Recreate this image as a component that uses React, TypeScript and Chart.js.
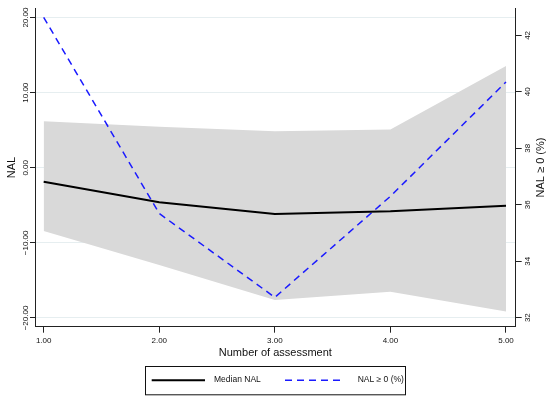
import React, { useRef, useEffect } from 'react';
import { Chart, registerables } from 'chart.js';

Chart.register(...registerables);

// data
const assessments = [1, 2, 3, 4, 5];
const medianNal = [-1.86, -4.6, -6.16, -5.8, -5.05];
const nalUpper = [6.2, 5.45, 4.88, 5.1, 13.56];
const nalLower = [-8.42, -12.95, -17.6, -16.5, -19.15];
const nalPositivePct = [42.64, 35.69, 32.72, 36.3, 40.35];

const xTicks = [1, 2, 3, 4, 5];
const leftTicks = [-20, -10, 0, 10, 20];
const rightTicks = [32, 34, 36, 38, 40, 42];

const FONT = '"Liberation Sans", Arial, Helvetica, sans-serif';
const AXIS_COLOR = '#222';
const GRID_COLOR = '#e6eef0';

const pts = (ys: number[]) => assessments.map((x, i) => ({ x, y: ys[i] }));
const setTicks = (vals: number[]) => (scale: any) => {
    scale.ticks = vals.map((v) => ({ value: v }));
};

const App: React.FC = () => {
    const canvasRef = useRef<HTMLCanvasElement>(null);
    const chartRef = useRef<Chart | null>(null);

    useEffect(() => {
        if (!canvasRef.current) return;
        const ctx = canvasRef.current.getContext('2d');
        if (!ctx) return;

        chartRef.current = new Chart(ctx, {
            type: 'line',
            data: {
                datasets: [
                    {
                        label: 'Median NAL',
                        data: pts(medianNal),
                        borderColor: '#000',
                        borderWidth: 2,
                        pointRadius: 0,
                        fill: false,
                        yAxisID: 'y',
                    },
                    {
                        label: 'NAL ≥ 0 (%)',
                        data: pts(nalPositivePct),
                        borderColor: '#1a1aff',
                        borderWidth: 1.5,
                        borderDash: [7, 5],
                        pointRadius: 0,
                        fill: false,
                        yAxisID: 'y2',
                    },
                    {
                        label: 'upper',
                        data: pts(nalUpper),
                        borderColor: 'rgba(0,0,0,0)',
                        borderWidth: 0,
                        backgroundColor: '#d9d9d9',
                        pointRadius: 0,
                        fill: '+1',
                        yAxisID: 'y',
                    },
                    {
                        label: 'lower',
                        data: pts(nalLower),
                        borderColor: 'rgba(0,0,0,0)',
                        borderWidth: 0,
                        backgroundColor: '#d9d9d9',
                        pointRadius: 0,
                        fill: false,
                        yAxisID: 'y',
                    },
                ],
            },
            options: {
                animation: false,
                responsive: false,
                layout: { padding: { top: 8.3, left: 0, right: 0, bottom: 0 } },
                plugins: {
                    legend: { display: false },
                    tooltip: { enabled: false },
                },
                scales: {
                    x: {
                        type: 'linear',
                        min: 0.925,
                        max: 5.084,
                        afterBuildTicks: setTicks(xTicks),
                        afterFit: (s: any) => {
                            s.height = 73.3;
                        },
                        grid: { drawOnChartArea: false, tickLength: 6, tickColor: AXIS_COLOR },
                        border: { color: AXIS_COLOR, width: 1 },
                        ticks: {
                            padding: 3,
                            color: '#111',
                            font: { family: FONT, size: 8 },
                            callback: (v: any) => Number(v).toFixed(2),
                        },
                    },
                    y: {
                        type: 'linear',
                        position: 'left',
                        min: -21.16,
                        max: 21.24,
                        afterBuildTicks: setTicks(leftTicks),
                        afterFit: (s: any) => {
                            s.width = 35;
                        },
                        grid: { color: GRID_COLOR, tickLength: 5, tickColor: AXIS_COLOR },
                        border: { color: AXIS_COLOR, width: 1 },
                        ticks: { display: false },
                    },
                    y2: {
                        type: 'linear',
                        position: 'right',
                        min: 31.68,
                        max: 42.96,
                        afterBuildTicks: setTicks(rightTicks),
                        afterFit: (s: any) => {
                            s.width = 34.3;
                        },
                        grid: { drawOnChartArea: false, tickLength: 6, tickColor: AXIS_COLOR },
                        border: { color: AXIS_COLOR, width: 1 },
                        ticks: { display: false },
                    },
                },
            },
            plugins: [
                {
                    id: 'stataText',
                    afterDraw: (chart) => {
                        const c = chart.ctx;
                        const yl = chart.scales.y;
                        const yr = chart.scales.y2;
                        const area = chart.chartArea;

                        const rotText = (text: string, x: number, y: number, size: number) => {
                            c.save();
                            c.translate(x, y);
                            c.rotate(-Math.PI / 2);
                            c.font = `${size}px ${FONT}`;
                            c.textAlign = 'center';
                            c.textBaseline = 'middle';
                            c.fillStyle = '#111';
                            c.fillText(text, 0, 0);
                            c.restore();
                        };

                        leftTicks.forEach((v) => {
                            const label = v < 0 ? '\u2212' + Math.abs(v).toFixed(2) : v.toFixed(2);
                            rotText(label, 26, yl.getPixelForValue(v), 8);
                        });
                        rightTicks.forEach((v) => rotText(String(v), 527.5, yr.getPixelForValue(v), 8));

                        rotText('NAL', 12, (area.top + area.bottom) / 2, 11);
                        rotText('NAL \u2265 0 (%)', 541, (area.top + area.bottom) / 2, 11);

                        c.save();
                        c.font = `11px ${FONT}`;
                        c.fillStyle = '#111';
                        c.textAlign = 'center';
                        c.textBaseline = 'middle';
                        c.fillText('Number of assessment', (area.left + area.right) / 2, 353);

                        // legend box
                        const bx = 145;
                        const by = 366;
                        const bw = 260;
                        const bh = 28.3;
                        const cy = by + bh / 2;
                        c.strokeStyle = '#111';
                        c.lineWidth = 1;
                        c.strokeRect(bx + 0.5, by + 0.5, bw, bh);

                        const items = [
                            { ds: chart.data.datasets[0] as any, x0: 151.7, x1: 205, tx: 214 },
                            { ds: chart.data.datasets[1] as any, x0: 285, x1: 340, tx: 357.7 },
                        ];
                        c.font = `8.5px ${FONT}`;
                        c.textAlign = 'left';
                        items.forEach((it) => {
                            c.beginPath();
                            c.setLineDash(it.ds.borderDash || []);
                            c.strokeStyle = it.ds.borderColor;
                            c.lineWidth = it.ds.borderWidth;
                            c.moveTo(it.x0, cy);
                            c.lineTo(it.x1, cy);
                            c.stroke();
                            c.setLineDash([]);
                            c.fillText(it.ds.label, it.tx, cy);
                        });
                        c.restore();
                    },
                },
            ],
        });

        return () => {
            chartRef.current?.destroy();
        };
    }, []);

    return (
        <div style={{ position: 'absolute', left: 0, top: 0, width: 550, height: 400, background: '#fff' }}>
            <canvas ref={canvasRef} width={550} height={400}></canvas>
        </div>
    );
};

export default App;
